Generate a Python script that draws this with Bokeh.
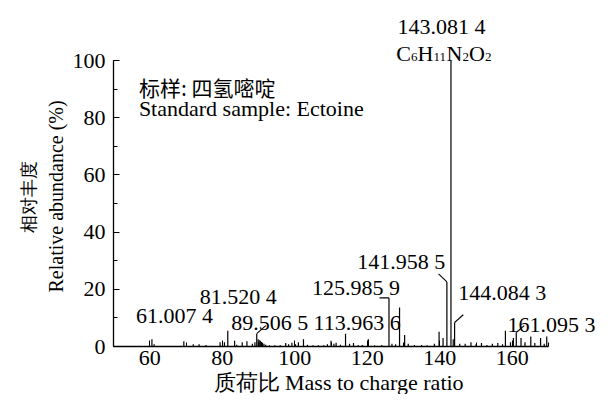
from bokeh.plotting import figure
from bokeh.models import Label, SingleIntervalTicker, Range1d, ColumnDataSource, Title
from bokeh.embed import file_html
from bokeh.resources import INLINE

# ---------------- data ----------------
mz = [60.6, 61.2, 69.4, 72.0, 73.6, 75.5, 79.4, 80.6, 81.5204, 83.4, 84.0, 85.5, 86.8,
      88.3, 89.0, 89.5065, 89.9, 90.2, 90.5, 90.8, 91.1, 91.5, 92.0, 93.0, 94.5, 96.0,
      97.5, 98.3, 99.2, 100.2, 101.0, 102.4, 103.5, 105.0, 106.5, 108.0, 109.0, 110.0,
      110.8, 111.4, 112.6, 114.0, 115.1, 116.2, 117.5, 118.6, 120.3, 122.0, 124.0,
      125.9859, 126.8, 127.8, 128.9, 130.3, 131.3, 133.0, 135.0, 136.5, 138.5, 139.8,
      140.9, 141.9585, 143.0814, 143.7, 144.0843, 145.5, 147.0, 148.6, 150.0, 151.5,
      153.0, 154.5, 156.0, 157.3, 158.1, 159.5, 160.3, 161.0953, 162.4, 163.5, 165.1,
      166.2, 167.8, 168.8, 169.5]
intensity = [2.5, 0.8, 1.8, 0.8, 0.8, 0.5, 1.5, 1.5, 5.5, 2.0, 0.6, 1.5, 1.8,
             1.0, 1.5, 4.5, 2.5, 2.2, 2.0, 1.6, 1.3, 1.0, 0.6, 0.4, 0.4, 0.4,
             1.2, 0.8, 1.3, 0.8, 1.5, 2.5, 0.6, 0.4, 0.4, 0.4, 0.8, 2.0,
             1.0, 1.3, 0.6, 4.5, 1.0, 1.2, 0.5, 0.5, 2.5, 0.4, 0.5,
             17.0, 1.0, 0.8, 13.6, 4.0, 1.0, 0.5, 0.5, 0.4, 1.0, 5.2,
             3.0, 22.6, 100.0, 2.5, 8.4, 1.0, 1.0, 1.5, 0.8, 1.2,
             0.5, 1.0, 1.2, 0.8, 5.5, 1.5, 3.0, 4.9, 3.0, 1.5, 3.5,
             1.2, 3.0, 1.0, 3.5]

peak_labels = ["143.081 4", "141.958 5", "125.985 9", "113.963 6", "144.084 3",
               "81.520 4", "61.007 4", "89.506 5", "161.095 3"]

leader_mz = [89.5065, 141.9585, 144.0843, 125.9859, 161.0953]
leader_h = [4.5, 22.6, 8.4, 17.0, 4.9]

x_bounds = (50, 170)
y_bounds = (0, 100)

# ---------------- layout / style ----------------
SERIF = "Liberation Serif, Tinos, Times New Roman, DejaVu Serif, serif"
CJK = "Noto Sans CJK SC"
FS = "22px"

p = figure(width=597, height=394, output_backend="svg", toolbar_location=None,
           x_range=Range1d(50, 183.5), y_range=Range1d(0, 121),
           min_border_left=0, min_border_right=0, min_border_top=0,
           min_border_bottom=0)
p.outline_line_color = None
p.xgrid.visible = False
p.ygrid.visible = False
p.background_fill_color = "white"
p.border_fill_color = "white"

for ax in (p.xaxis[0], p.yaxis[0]):
    ax.axis_line_color = "black"
    ax.axis_line_width = 1.3
    ax.major_tick_in = 6
    ax.major_tick_out = 0
    ax.minor_tick_in = 4
    ax.minor_tick_out = 0
    ax.major_tick_line_color = "black"
    ax.minor_tick_line_color = "black"
    ax.major_label_text_font = SERIF
    ax.major_label_text_font_size = FS
    ax.major_label_text_color = "black"

p.xaxis.bounds = x_bounds
p.yaxis.bounds = y_bounds
p.xaxis.ticker = SingleIntervalTicker(interval=20, num_minor_ticks=2)
p.yaxis.ticker = SingleIntervalTicker(interval=20, num_minor_ticks=2)
p.xaxis.major_label_standoff = 4
p.yaxis.major_label_standoff = 8

src = ColumnDataSource(dict(x=mz, y0=[0] * len(mz), y1=intensity))
p.segment(x0="x", y0="y0", x1="x", y1="y1", source=src, line_color="black",
          line_width=1.2)

# leader lines (offsets in data units from the peak tops)
leader_dx = [2.5, -2.3, 2.4, -2.6, 2.2]
leader_dy = [2.8, 2.8, 2.7, 0.0, 2.4]
p.segment(x0=leader_mz, y0=leader_h,
          x1=[m + d for m, d in zip(leader_mz, leader_dx)],
          y1=[h + d for h, d in zip(leader_h, leader_dy)],
          line_color="black", line_width=1.1)

# peak label positions (data units): centre x, baseline y, align
lab_pos = [(140.5, 111.8, "center"), (129.4, 29.6, "center"), (116.9, 20.5, "center"),
           (117.2, 8.3, "center"), (145.1, 18.8, "left"), (84.4, 17.4, "center"),
           (66.8, 10.7, "center"), (93.1, 8.3, "center"), (158.7, 7.6, "left")]
for t, (lx, ly, al) in zip(peak_labels, lab_pos):
    p.add_layout(Label(x=lx, y=ly, text=t, text_font=SERIF, text_font_size=FS,
                       text_align=al, text_baseline="alphabetic", text_color="black"))

# formula C6H11N2O2 with subscripts
pieces = [("C", False), ("6", True), ("H", False), ("11", True), ("N", False),
          ("2", True), ("O", False), ("2", True)]
widths = {"C": 14.7, "H": 15.9, "N": 15.9, "O": 15.9, "6": 6.6, "11": 13.0, "2": 6.6}
off = 0.0
for t, sub in pieces:
    p.add_layout(Label(x=128.0, y=101.2 if sub else 102.6, x_offset=off, text=t,
                       text_font=SERIF, text_font_size="13px" if sub else FS,
                       text_align="left", text_baseline="alphabetic",
                       text_color="black"))
    off += widths[t]

# sample note
p.add_layout(Label(x=57.0, y=90.8, text="标样: 四氢嘧啶", text_font=CJK,
                   text_font_size="21px", text_align="left", text_baseline="alphabetic",
                   text_color="black"))
p.add_layout(Label(x=57.0, y=83.2, text="Standard sample: Ectoine", text_font=SERIF,
                   text_font_size=FS, text_align="left", text_baseline="alphabetic",
                   text_color="black"))

# axis titles (left side: from the axis outward)
p.add_layout(Title(text="Relative abundance (%)", text_font=SERIF, text_font_size="20px",
                   text_font_style="normal", text_color="black", align="left",
                   offset=54, standoff=6), "left")
p.add_layout(Title(text="相对丰度", text_font=SERIF, text_font_size="18px",
                   text_font_style="normal", text_color="black", align="left",
                   offset=114, standoff=2), "left")
p.add_layout(Title(text=" ", text_font=SERIF, text_font_size="1px",
                   text_font_style="normal", standoff=12), "left")
p.add_layout(Title(text="质荷比 Mass to charge ratio", text_font=SERIF,
                   text_font_size=FS, text_font_style="normal", text_color="black",
                   align="left", offset=100, standoff=0), "below")

open("out.html", "w").write(file_html(p, INLINE))
